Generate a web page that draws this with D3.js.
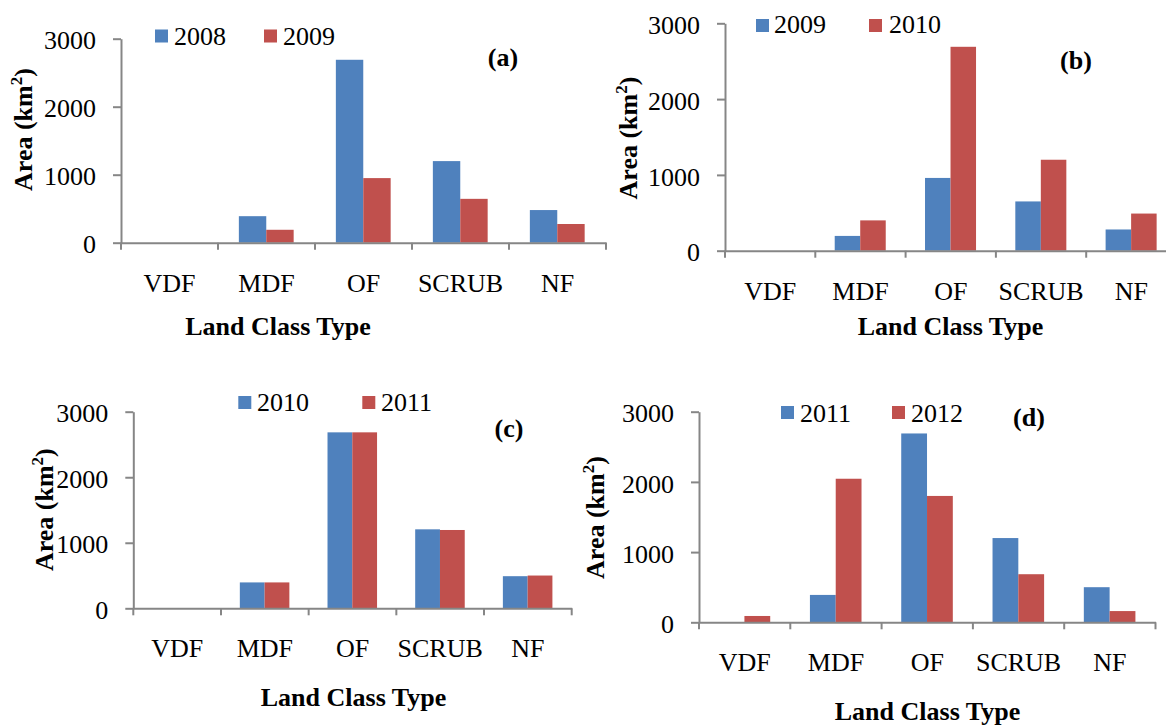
<!DOCTYPE html>
<html><head><meta charset="utf-8">
<script src="https://cdn.jsdelivr.net/npm/d3@7"></script>
<style>body{margin:0;background:#fff}svg{display:block}</style>
</head><body>
<svg id="chart" width="1166" height="725"></svg>
<script>
// ---- data ----
const categories = ["VDF", "MDF", "OF", "SCRUB", "NF"];
const yTicks = [0, 1000, 2000, 3000];
const yMax = 3000;
const a2008 = [0, 390, 2690, 1200, 480];
const a2009 = [0, 190, 950, 645, 275];
const b2009 = [0, 195, 960, 650, 280];
const b2010 = [0, 400, 2690, 1200, 490];
const c2010 = [0, 395, 2685, 1205, 490];
const c2011 = [0, 395, 2685, 1195, 500];
const d2011 = [0, 390, 2690, 1200, 500];
const d2012 = [90, 2045, 1800, 685, 160];
const legendYears = [["2008", "2009"], ["2009", "2010"], ["2010", "2011"], ["2011", "2012"]];
const panelLabels = ["(a)", "(b)", "(c)", "(d)"];
const seriesColors = ["#4F81BD", "#C0504D"];
const xTitle = "Land Class Type";

// ---- layout ----
const FONT = "'Liberation Serif','Times New Roman',serif";
const AXIS = "#868686";
const layouts = [
  {left:121, right:606, top:38.7, bottom:242.7, leg:[155,174,264,283], legTop:29.5, legBase:45, lab:[503,66], yt:[32,129.5], xt:[278,335]},
  {left:725, right:1176.5, top:23.3, bottom:250.7, leg:[756,774,869,889], legTop:19, legBase:33, lab:[1076,69], yt:[637,138], xt:[950.5,335]},
  {left:133.3, right:571.7, top:411.7, bottom:608.3, leg:[238.3,257,362.3,381], legTop:396, legBase:410.7, lab:[509,437], yt:[53,509.7], xt:[353.5,706]},
  {left:699, right:1155.5, top:411.7, bottom:622.3, leg:[781,800,892,911], legTop:406, legBase:421.7, lab:[1029,426], yt:[604,517.5], xt:[927.5,720]}
];
const panelData = [[a2008, a2009], [b2009, b2010], [c2010, c2011], [d2011, d2012]];

const svg = d3.select("#chart");

panelData.forEach((series, i) => {
  const L = layouts[i];
  const g = svg.append("g");
  const x = d3.scaleBand().domain(categories).range([L.left, L.right]).padding(0);
  const bw = x.bandwidth();
  const xi = d3.scaleBand().domain([0, 1]).range([bw * 0.215, bw * 0.78]).padding(0);
  const y = d3.scaleLinear().domain([0, yMax]).range([L.bottom, L.top]);

  series.forEach((vals, s) => {
    g.append("g").selectAll("rect").data(vals).join("rect")
      .attr("x", (d, k) => x(categories[k]) + xi(s))
      .attr("y", d => y(d))
      .attr("width", xi.bandwidth())
      .attr("height", d => y(0) - y(d))
      .attr("fill", seriesColors[s]);
  });

  // y axis
  const ya = g.append("g").attr("transform", `translate(${L.left},0)`)
    .call(d3.axisLeft(y).tickValues(yTicks).tickFormat(d3.format("d"))
      .tickSize(8).tickSizeOuter(0).tickPadding(17));
  // x axis
  const xa = g.append("g").attr("transform", `translate(0,${L.bottom})`)
    .call(d3.axisBottom(x).tickSize(0).tickSizeOuter(0).tickPadding(30.5));
  [ya, xa].forEach(a => {
    a.select(".domain").attr("stroke", AXIS).attr("stroke-width", 2);
    a.selectAll(".tick line").attr("stroke", AXIS).attr("stroke-width", 2);
    a.selectAll(".tick text").attr("font-family", FONT).attr("font-size", 26).attr("fill", "#000");
  });
  ya.selectAll(".tick text").attr("dy", "0.39em");

  // category boundary ticks
  const bounds = categories.map(c => x(c)).concat([x.range()[1]]);
  g.append("g").selectAll("line").data(bounds).join("line")
    .attr("x1", d => d).attr("x2", d => d)
    .attr("y1", L.bottom).attr("y2", L.bottom + 7)
    .attr("stroke", AXIS).attr("stroke-width", 2);

  // legend
  legendYears[i].forEach((yr, s) => {
    g.append("rect").attr("x", L.leg[s * 2]).attr("y", L.legTop)
      .attr("width", 13).attr("height", 13).attr("fill", seriesColors[s]);
    g.append("text").attr("x", L.leg[s * 2 + 1]).attr("y", L.legBase)
      .attr("font-family", FONT).attr("font-size", 26).attr("fill", "#000").text(yr);
  });

  // panel label
  g.append("text").attr("x", L.lab[0]).attr("y", L.lab[1]).attr("text-anchor", "middle")
    .attr("font-family", FONT).attr("font-size", 26).attr("font-weight", "bold").text(panelLabels[i]);

  // y title
  const yt = g.append("text").attr("transform", `translate(${L.yt[0]},${L.yt[1]}) rotate(-90)`)
    .attr("text-anchor", "middle").attr("font-family", FONT).attr("font-size", 26).attr("font-weight", "bold");
  yt.append("tspan").text("Area (km");
  yt.append("tspan").attr("font-size", 17).attr("dy", -10).text("2");
  yt.append("tspan").attr("dy", 10).text(")");

  // x title
  g.append("text").attr("x", L.xt[0]).attr("y", L.xt[1]).attr("text-anchor", "middle")
    .attr("font-family", FONT).attr("font-size", 26).attr("font-weight", "bold").text(xTitle);
});
</script>
</body></html>
